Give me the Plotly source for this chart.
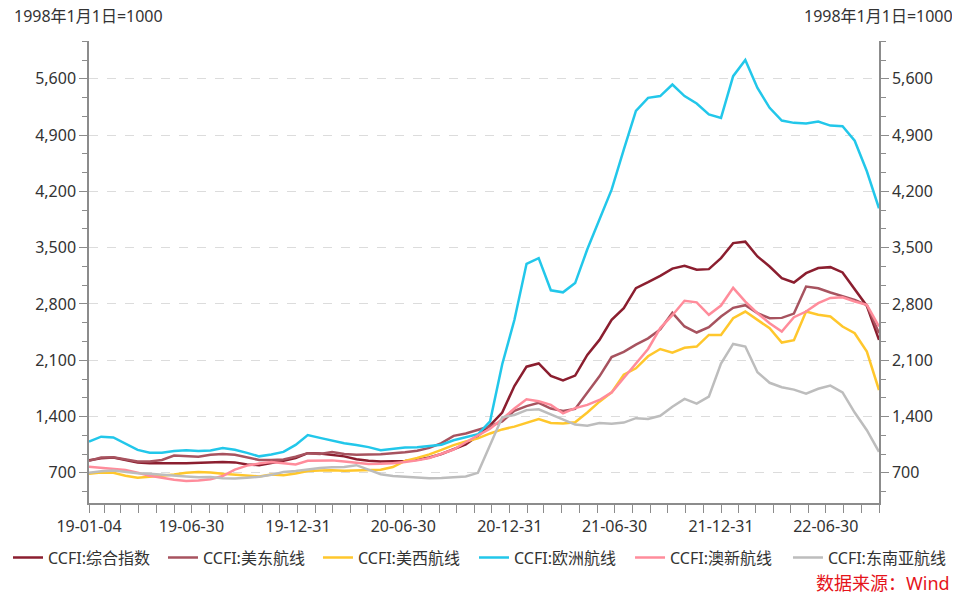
import pandas as pd
import plotly.graph_objects as go

# ---------------- data ----------------
start_date = "2019-01-04"
n_points = 66
step = "21D"
dates = pd.date_range(start_date, periods=n_points, freq=step)

names = ["CCFI:综合指数", "CCFI:美东航线", "CCFI:美西航线",
         "CCFI:欧洲航线", "CCFI:澳新航线", "CCFI:东南亚航线"]

composite = [858, 880, 890, 860, 830, 820, 815, 818, 820, 825,
             832, 835, 830, 805, 795, 820, 850, 885, 945, 940,
             925, 905, 870, 850, 840, 842, 848, 862, 890, 935,
             990, 1055, 1160, 1290, 1450, 1780, 2020, 2060, 1905, 1850,
             1910, 2166, 2353, 2602, 2748, 2997, 3071, 3150, 3240, 3275,
             3225, 3233, 3370, 3557, 3575, 3391, 3266, 3121, 3067, 3183,
             3246, 3258, 3192, 2976, 2776, 2353]

us_east = [850, 890, 895, 870, 840, 840, 860, 915, 905, 900,
           925, 935, 925, 890, 860, 860, 865, 900, 945, 935,
           960, 935, 925, 928, 930, 945, 955, 975, 1010, 1070,
           1160, 1190, 1235, 1280, 1340, 1470, 1530, 1570, 1500, 1470,
           1495, 1700, 1900, 2140, 2205, 2295, 2372, 2483, 2690, 2520,
           2445, 2511, 2644, 2752, 2785, 2686, 2623, 2627, 2680, 3017,
           2996, 2942, 2901, 2851, 2785, 2436]

us_west = [690, 705, 700, 665, 640, 650, 665, 680, 700, 710,
           705, 690, 680, 665, 655, 680, 670, 692, 722, 728,
           732, 725, 732, 735, 738, 772, 848, 885, 930, 985,
           1045, 1090, 1128, 1190, 1240, 1275, 1320, 1370, 1320, 1315,
           1330, 1450, 1585, 1700, 1920, 2000, 2150, 2240, 2195, 2255,
           2270, 2415, 2415, 2623, 2706, 2602, 2498, 2320, 2350, 2706,
           2665, 2644, 2519, 2436, 2208, 1730]

europe = [1087, 1150, 1140, 1060, 985, 950, 950, 972, 980, 972,
          978, 1010, 988, 948, 905, 928, 960, 1048, 1170, 1135,
          1100, 1068, 1045, 1020, 980, 995, 1015, 1018, 1032, 1050,
          1105, 1138, 1180, 1340, 2050, 2600, 3300, 3370, 2970, 2945,
          3060, 3480, 3848, 4221, 4720, 5200, 5363, 5385, 5529, 5385,
          5293, 5156, 5114, 5633, 5833, 5487, 5239, 5081, 5052, 5043,
          5068, 5018, 5010, 4830, 4450, 3990]

aus_nz = [775, 760, 745, 735, 700, 665, 640, 615, 600, 605,
          620, 660, 740, 790, 815, 835, 820, 805, 850, 850,
          855, 840, 825, 810, 812, 818, 835, 855, 885, 935,
          990, 1080, 1170, 1250, 1370, 1500, 1614, 1590, 1545, 1440,
          1505, 1545, 1606, 1700, 1880, 2060, 2240, 2500, 2660, 2840,
          2820, 2665, 2780, 3000, 2830, 2685, 2561, 2457, 2635, 2706,
          2810, 2875, 2884, 2830, 2789, 2519]

se_asia = [700, 720, 730, 710, 695, 688, 680, 670, 655, 645,
           648, 632, 630, 640, 650, 675, 710, 722, 742, 760,
           768, 774, 795, 740, 683, 662, 649, 640, 632, 635,
           642, 655, 700, 1050, 1390, 1420, 1480, 1490, 1430, 1360,
           1300, 1285, 1320, 1310, 1325, 1380, 1370, 1410, 1522, 1620,
           1560, 1647, 2060, 2303, 2270, 1950, 1820, 1765, 1735, 1685,
           1745, 1785, 1700, 1450, 1230, 962]

x_tick_labels = ["19-01-04", "19-06-30", "19-12-31", "20-06-30",
                 "20-12-31", "21-06-30", "21-12-31", "22-06-30"]
y_major_step = 700
y_unit_label = "1998年1月1日=1000"
source_label = "数据来源：Wind"

# ---------------- style ----------------
colors = ["#8B1E2F", "#A7535F", "#FFC72C", "#22C7EA", "#FF8C9B", "#BDBDBD"]
legend_x = [0.0, 0.1628, 0.3256, 0.4895, 0.6534, 0.8193]
axis_color = "#8C8C8C"
font_family = "Noto Sans, Noto Sans CJK SC, sans-serif"
y_range = [325, 6070]

series = [composite, us_east, us_west, europe, aus_nz, se_asia]
tick_dates = pd.to_datetime(x_tick_labels, format="%y-%m-%d")

fig = go.Figure()
legend_ids = ["legend"] + [f"legend{k}" for k in range(2, len(names) + 1)]
for name, vals, col, lid in zip(names, series, colors, legend_ids):
    fig.add_trace(go.Scatter(x=dates, y=vals, mode="lines", name=name,
                             legend=lid, line=dict(color=col, width=2.5)))

# dummy trace so the right-hand axis is drawn
fig.add_trace(go.Scatter(x=[dates[0]], y=[None], yaxis="y2", showlegend=False,
                         hoverinfo="skip", mode="lines"))

yaxis_common = dict(
    range=y_range, tickmode="linear", tick0=0, dtick=y_major_step,
    tickformat=",", ticks="outside", ticklen=8, tickcolor=axis_color,
    showline=True, linecolor=axis_color, linewidth=1.5, zeroline=False,
    tickfont=dict(size=16, color="#333333"),
    minor=dict(tickmode="linear", tick0=0, dtick=y_major_step / 3,
               ticks="outside", ticklen=5, tickcolor=axis_color, showgrid=False),
)

legend_layouts = {}
for lid, lx in zip(legend_ids, legend_x):
    legend_layouts[lid] = dict(
        orientation="h", xref="container", yref="container",
        x=lx, y=0.062, xanchor="left", yanchor="middle",
        itemwidth=30, font=dict(size=16, color="#333333"),
        bgcolor="rgba(0,0,0,0)")

fig.update_layout(
    width=952, height=586,
    margin=dict(l=81, r=81, t=33, b=91, autoexpand=False),
    paper_bgcolor="white", plot_bgcolor="white",
    font=dict(family=font_family, size=16, color="#333333"),
    showlegend=True,
    xaxis=dict(type="date", range=[dates[0], dates[-1]],
               tickmode="array", tickvals=tick_dates, ticktext=x_tick_labels,
               ticks="outside", ticklen=8, tickcolor=axis_color,
               showline=True, linecolor=axis_color, linewidth=1.5,
               showgrid=False, zeroline=False,
               tickfont=dict(size=16, color="#333333"),
               minor=dict(tickmode="linear", tick0="2019-01-31", dtick="M1",
                          ticks="outside", ticklen=8, tickcolor=axis_color,
                          showgrid=False)),
    yaxis=dict(**yaxis_common, showgrid=True, gridcolor="#DCDCDC",
               griddash="dash", gridwidth=1),
    yaxis2=dict(**yaxis_common, overlaying="y", side="right", showgrid=False),
    annotations=[
        dict(text=y_unit_label, xref="paper", yref="paper",
             x=-0.0975, y=1.054, xanchor="left", yanchor="middle",
             showarrow=False, font=dict(size=16, color="#333333")),
        dict(text=y_unit_label, xref="paper", yref="paper",
             x=1.096, y=1.054, xanchor="right", yanchor="middle",
             showarrow=False, font=dict(size=16, color="#333333")),
        dict(text=source_label, xref="paper", yref="paper",
             x=1.0924, y=-0.174, xanchor="right", yanchor="middle",
             showarrow=False, font=dict(size=18, color="#E5141B")),
    ],
    **legend_layouts,
)

fig.write_html("out.html")
